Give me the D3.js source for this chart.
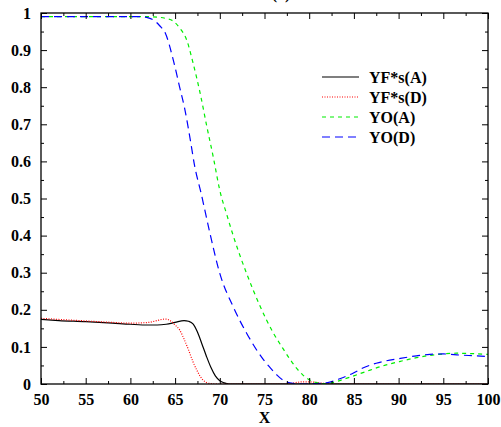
<!DOCTYPE html>
<html>
<head>
<meta charset="utf-8">
<script src="https://cdn.jsdelivr.net/npm/d3@7"></script>
<style>
  html, body { margin: 0; padding: 0; background: #fff; }
  svg { display: block; }
</style>
</head>
<body>
<svg id="chart" width="501" height="427"></svg>
<script>
// ---- data ----
const xTicks = [50, 55, 60, 65, 70, 75, 80, 85, 90, 95, 100];
const yTicks = [0, 0.1, 0.2, 0.3, 0.4, 0.5, 0.6, 0.7, 0.8, 0.9, 1];
const seriesNames = ["YF*s(A)", "YF*s(D)", "YO(A)", "YO(D)"];

const yfaX = [50, 52, 55, 58, 60, 62, 63, 64, 65, 66, 66.5, 67, 67.5, 68, 68.5, 69, 69.5, 70, 70.5, 71, 72, 75, 80, 85, 90, 95, 100];
const yfaY = [0.174, 0.171, 0.168, 0.164, 0.161, 0.159, 0.159, 0.161, 0.166, 0.171, 0.169, 0.162, 0.140, 0.108, 0.075, 0.045, 0.022, 0.009, 0.003, 0, 0, 0, 0, 0, 0, 0, 0];

const yfdX = [50, 52, 55, 58, 60, 62, 63, 63.5, 64, 64.5, 65, 65.5, 66, 66.5, 67, 67.5, 68, 68.5, 69, 70, 75, 77.5, 78.5, 79.5, 80.5, 81.5, 82.5, 85, 90, 95, 100];
const yfdY = [0.177, 0.174, 0.170, 0.166, 0.164, 0.166, 0.171, 0.174, 0.175, 0.170, 0.159, 0.146, 0.121, 0.092, 0.060, 0.034, 0.014, 0.004, 0.001, 0, 0, 0, 0.004, 0.006, 0.005, 0.002, 0, 0, 0, 0, 0];

const yoaX = [50, 55, 60, 62, 63, 64, 64.8, 65.5, 66.3, 67, 67.8, 68.5, 69.3, 70, 70.8, 71.5, 72.2, 73, 74.5, 76, 77, 77.9, 78.6, 79.3, 80.1, 81, 81.8, 82.5, 83.1, 84.5, 86.4, 88, 90.2, 92, 93.5, 95, 96.5, 98, 100];
const yoaY = [0.99, 0.99, 0.99, 0.99, 0.989, 0.985, 0.978, 0.960, 0.927, 0.866, 0.784, 0.700, 0.608, 0.522, 0.455, 0.400, 0.350, 0.298, 0.210, 0.137, 0.098, 0.065, 0.042, 0.024, 0.010, 0.003, 0.001, 0.003, 0.007, 0.018, 0.034, 0.047, 0.061, 0.071, 0.077, 0.081, 0.083, 0.082, 0.080];

const yodX = [50, 55, 60, 61, 62, 62.6, 63.3, 63.9, 64.8, 65.5, 66.1, 66.7, 67.2, 67.9, 68.9, 70, 71.5, 73, 74.9, 75.7, 76.4, 77.1, 77.7, 78.5, 79.5, 80.5, 81.5, 82.3, 83.5, 84.9, 86, 87.5, 90.2, 92, 93.5, 95, 96.9, 98.5, 100];
const yodY = [0.99, 0.99, 0.99, 0.99, 0.987, 0.981, 0.965, 0.946, 0.873, 0.801, 0.739, 0.658, 0.586, 0.515, 0.406, 0.298, 0.208, 0.137, 0.065, 0.042, 0.024, 0.010, 0.004, 0.001, 0.000, 0.001, 0.002, 0.005, 0.015, 0.029, 0.043, 0.056, 0.069, 0.076, 0.080, 0.081, 0.078, 0.076, 0.074];

// ---- layout ----
const FONT = "'Liberation Serif', 'Times New Roman', 'DejaVu Serif', serif";
const svg = d3.select("#chart");
const L = 41, R = 488, T = 13, B = 384;
const x = d3.scaleLinear().domain([50, 100]).range([L, R]);
const y = d3.scaleLinear().domain([0, 1]).range([B, T]);

const styles = [
  { color: "#000000", dash: null, width: 1.2 },
  { color: "#ff0000", dash: "1,1.5", width: 1.2 },
  { color: "#00ee00", dash: "4,4", width: 1.2 },
  { color: "#0000ff", dash: "8,5", width: 1.2 }
];
const series = [
  { xs: yfaX, ys: yfaY },
  { xs: yfdX, ys: yfdY },
  { xs: yoaX, ys: yoaY },
  { xs: yodX, ys: yodY }
];

const line = d3.line().x(d => x(d[0])).y(d => y(d[1])).curve(d3.curveMonotoneX);

svg.append("defs").append("clipPath").attr("id", "clip")
  .append("rect").attr("x", L).attr("y", T - 2).attr("width", R - L).attr("height", B - T + 2);

const g = svg.append("g").attr("clip-path", "url(#clip)");
series.forEach((s, i) => {
  const pts = s.xs.map((v, k) => [v, s.ys[k]]);
  g.append("path").datum(pts)
    .attr("d", line)
    .attr("fill", "none")
    .attr("stroke", styles[i].color)
    .attr("stroke-width", styles[i].width)
    .attr("stroke-dasharray", styles[i].dash);
});

// ---- axes with inward ticks on all sides ----
const xMinor = d3.range(52.5, 100, 5);
const yMinor = d3.range(0.05, 1, 0.1);
const major = 6, minor = 3;

const axisBottom = d3.axisBottom(x).tickValues(xTicks).tickSize(-major).tickPadding(10).tickFormat(d3.format("d"));
const axisLeft = d3.axisLeft(y).tickValues(yTicks).tickSize(-major).tickPadding(10).tickFormat(d => d === 0 ? "0" : d === 1 ? "1" : d3.format(".1f")(d));
const axisTop = d3.axisTop(x).tickValues(xTicks).tickSize(-major).tickFormat("");
const axisRight = d3.axisRight(y).tickValues(yTicks).tickSize(-major).tickFormat("");

function styleAxis(sel) {
  sel.select(".domain").remove();
  sel.attr("font-family", null).attr("font-size", null);
  sel.selectAll("line").attr("stroke", "#000").attr("stroke-width", 1);
  sel.selectAll("text").attr("fill", "#000")
    .style("font-family", FONT).style("font-weight", "bold").style("font-size", "16px");
}

svg.append("g").attr("transform", `translate(0,${B})`).call(axisBottom).call(styleAxis);
svg.append("g").attr("transform", `translate(${L},0)`).call(axisLeft).call(styleAxis);
svg.append("g").attr("transform", `translate(0,${T})`).call(axisTop).call(styleAxis);
svg.append("g").attr("transform", `translate(${R},0)`).call(axisRight).call(styleAxis);

svg.append("g").attr("transform", `translate(0,${B})`).call(d3.axisBottom(x).tickValues(xMinor).tickSize(-minor).tickFormat("")).call(styleAxis);
svg.append("g").attr("transform", `translate(0,${T})`).call(d3.axisTop(x).tickValues(xMinor).tickSize(-minor).tickFormat("")).call(styleAxis);
svg.append("g").attr("transform", `translate(${L},0)`).call(d3.axisLeft(y).tickValues(yMinor).tickSize(-minor).tickFormat("")).call(styleAxis);
svg.append("g").attr("transform", `translate(${R},0)`).call(d3.axisRight(y).tickValues(yMinor).tickSize(-minor).tickFormat("")).call(styleAxis);

// frame
svg.append("rect").attr("x", L).attr("y", T).attr("width", R - L).attr("height", B - T)
  .attr("fill", "none").attr("stroke", "#000").attr("stroke-width", 1.3);

function label(sel) {
  return sel.style("font-family", FONT).style("font-weight", "bold").style("font-size", "16px").attr("fill", "#000");
}

// x axis title
svg.append("text").attr("x", (L + R) / 2).attr("y", 423).attr("text-anchor", "middle")
  .call(label).text("X");

// title (mostly cut off at top, as in the source image)
svg.append("text").attr("x", 281).attr("y", -1).attr("text-anchor", "middle")
  .call(label).text("(a)");

// ---- legend ----
const legend = svg.append("g");
const legY = [77, 97, 117, 137];
seriesNames.forEach((name, i) => {
  legend.append("line")
    .attr("x1", 322).attr("x2", 359).attr("y1", legY[i]).attr("y2", legY[i])
    .attr("stroke", styles[i].color).attr("stroke-width", styles[i].width)
    .attr("stroke-dasharray", styles[i].dash);
  legend.append("text").attr("x", 369).attr("y", legY[i]).attr("dy", "0.35em")
    .call(label).text(name);
});
</script>
</body>
</html>
